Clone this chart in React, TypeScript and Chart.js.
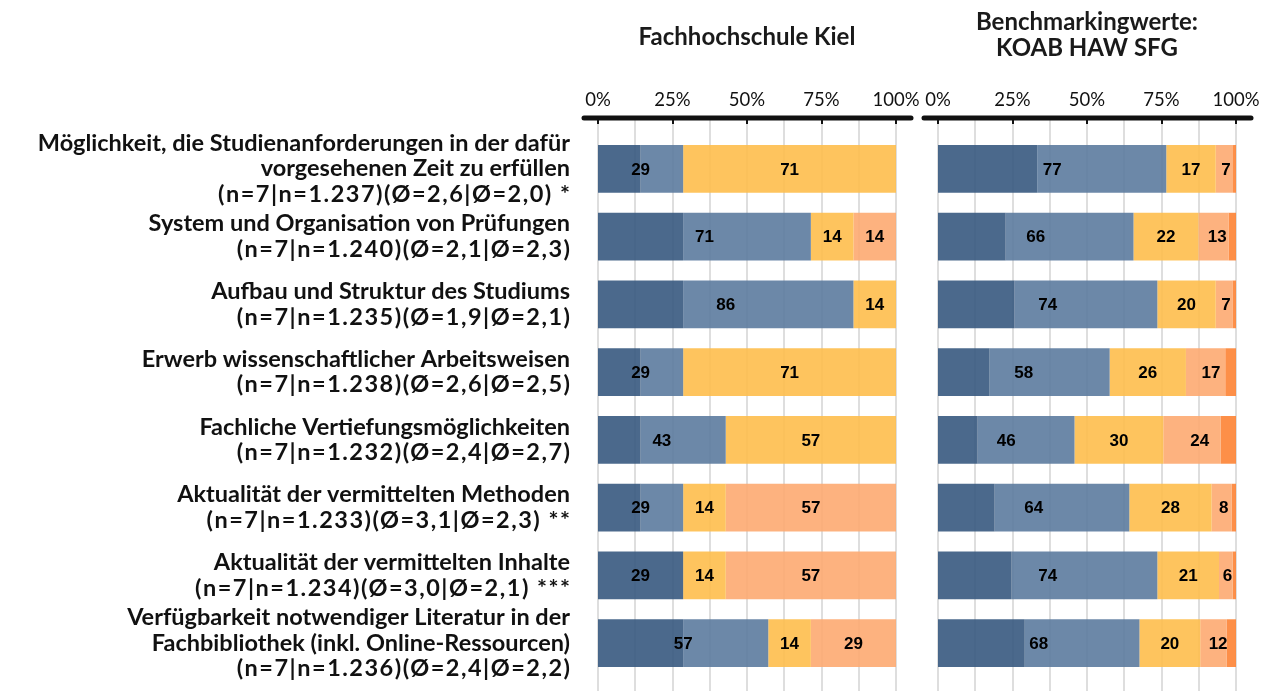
import React, { useEffect, useRef } from "react";
import { Chart, registerables } from "chart.js";
Chart.register(...registerables);

const categories: string[][] = [
  ["Möglichkeit, die Studienanforderungen in der dafür", "vorgesehenen Zeit zu erfüllen", "(n=7|n=1.237)(Ø=2,6|Ø=2,0) *"],
  ["System und Organisation von Prüfungen", "(n=7|n=1.240)(Ø=2,1|Ø=2,3)"],
  ["Aufbau und Struktur des Studiums", "(n=7|n=1.235)(Ø=1,9|Ø=2,1)"],
  ["Erwerb wissenschaftlicher Arbeitsweisen", "(n=7|n=1.238)(Ø=2,6|Ø=2,5)"],
  ["Fachliche Vertiefungsmöglichkeiten", "(n=7|n=1.232)(Ø=2,4|Ø=2,7)"],
  ["Aktualität der vermittelten Methoden", "(n=7|n=1.233)(Ø=3,1|Ø=2,3) **"],
  ["Aktualität der vermittelten Inhalte", "(n=7|n=1.234)(Ø=3,0|Ø=2,1) ***"],
  ["Verfügbarkeit notwendiger Literatur in der", "Fachbibliothek (inkl. Online-Ressourcen)", "(n=7|n=1.236)(Ø=2,4|Ø=2,2)"],
];

// Fachhochschule Kiel (percent)
const kielSehrGut = [14.29, 28.57, 28.57, 14.29, 14.29, 14.29, 28.57, 28.57];
const kielGut = [14.29, 42.86, 57.14, 14.29, 28.57, 14.29, 0, 28.57];
const kielMittel = [71.43, 14.29, 14.29, 71.43, 57.14, 14.29, 14.29, 14.29];
const kielSchlecht = [0, 14.29, 0, 0, 0, 57.14, 57.14, 28.57];
const kielSehrSchlecht = [0, 0, 0, 0, 0, 0, 0, 0];

// Benchmarkingwerte KOAB HAW SFG (percent)
const koabSehrGut = [33.3, 22.7, 25.7, 17.3, 13.3, 19.0, 24.7, 29.1];
const koabGut = [43.3, 42.9, 47.9, 40.3, 32.5, 45.2, 48.9, 38.5];
const koabMittel = [16.6, 21.8, 19.6, 25.6, 29.8, 27.6, 20.7, 20.4];
const koabSchlecht = [5.8, 10.1, 5.6, 13.2, 19.3, 6.8, 4.6, 8.9];
const koabSehrSchlecht = [1.0, 2.5, 1.2, 3.6, 5.1, 1.4, 1.1, 3.1];

const xTicks = [0, 25, 50, 75, 100];
const gridValues = [0, 12.5, 25, 37.5, 50, 62.5, 75, 87.5, 100];
const labelGroups = [[0, 1], [2], [3, 4]];

const colors = [
  "rgba(55, 89, 127, 0.9)",
  "rgba(92, 123, 158, 0.9)",
  "rgba(254, 190, 76, 0.9)",
  "rgba(253, 170, 113, 0.9)",
  "rgba(253, 131, 52, 0.9)",
];

const AXIS_Y = 118;
const TICK_Y = 100;
const LABEL_RIGHT = 570;
const LINE_H = 25.5;
const FONT = "Lato, 'Open Sans', sans-serif";

function makeDecor(title: string[], titleYs: number[], withCategories: boolean) {
  return {
    id: "decor",
    beforeDatasetsDraw(chart: any) {
      const ctx = chart.ctx;
      const x = chart.scales.x;
      ctx.save();
      ctx.strokeStyle = "#dedede";
      ctx.lineWidth = 2;
      for (const v of gridValues) {
        const px = Math.round(x.getPixelForValue(v));
        ctx.beginPath();
        ctx.moveTo(px, AXIS_Y);
        ctx.lineTo(px, chart.height);
        ctx.stroke();
      }
      ctx.restore();
    },
    afterDatasetsDraw(chart: any) {
      const ctx = chart.ctx;
      const x = chart.scales.x;
      const y = chart.scales.y;
      const ds = chart.data.datasets;
      const labels = chart.data.labels as string[][];
      ctx.save();
      // value labels
      ctx.font = "bold 17px 'Liberation Sans', Arial, sans-serif";
      ctx.fillStyle = "#000";
      ctx.textAlign = "center";
      ctx.textBaseline = "middle";
      const n = labels.length;
      for (let i = 0; i < n; i++) {
        const py = y.getPixelForValue(i);
        let cum = 0;
        for (const g of labelGroups) {
          const val = g.reduce((s: number, k: number) => s + (ds[k].data[i] as number), 0);
          if (val >= 3) {
            const cx = x.getPixelForValue(cum + val / 2);
            ctx.fillText(String(Math.round(val)), cx, py + 1);
          }
          cum += val;
        }
      }
      // category labels
      if (withCategories) {
        ctx.textAlign = "right";
        ctx.fillStyle = "#111";
        ctx.font = `bold 23.5px ${FONT}`;
        for (let i = 0; i < n; i++) {
          const lines = labels[i];
          const py = y.getPixelForValue(i);
          const start = py - ((lines.length - 1) * LINE_H) / 2;
          lines.forEach((line, k) => {
            (ctx as any).letterSpacing = line.startsWith("(n=") ? "1.5px" : "0px";
            const extra = line.startsWith("(n=") ? 1.5 : 0;
            ctx.fillText(line, LABEL_RIGHT + extra, start + k * LINE_H);
          });
        }
        (ctx as any).letterSpacing = "0px";
      }
      // axis line
      const x0 = x.getPixelForValue(0);
      const x1 = x.getPixelForValue(100);
      ctx.textAlign = "center";
      ctx.strokeStyle = "#111";
      ctx.lineCap = "round";
      ctx.lineWidth = 5;
      ctx.beginPath();
      ctx.moveTo(x0 - 14, AXIS_Y);
      ctx.lineTo(x1 + 15, AXIS_Y);
      ctx.stroke();
      ctx.lineCap = "butt";
      ctx.lineWidth = 2;
      for (const t of xTicks) {
        const px = Math.round(x.getPixelForValue(t));
        ctx.beginPath();
        ctx.moveTo(px, AXIS_Y);
        ctx.lineTo(px, AXIS_Y + 6);
        ctx.stroke();
      }
      // tick labels
      ctx.font = `18.5px ${FONT}`;
      ctx.fillStyle = "#111";
      for (const t of xTicks) {
        ctx.fillText(t + "%", x.getPixelForValue(t), TICK_Y);
      }
      // title
      ctx.font = `bold 24px ${FONT}`;
      ctx.fillStyle = "#1a1a1a";
      const cx = (x0 + x1) / 2;
      title.forEach((line, k) => ctx.fillText(line, cx, titleYs[k]));
      ctx.restore();
    },
  };
}

function buildDatasets(series: number[][]) {
  return series.map((data, k) => ({
    label: String(k),
    data,
    backgroundColor: colors[k],
    borderWidth: 0,
    barPercentage: 0.704,
    categoryPercentage: 1,
  }));
}

export default function App() {
  const leftRef = useRef<HTMLCanvasElement>(null);
  const rightRef = useRef<HTMLCanvasElement>(null);

  useEffect(() => {
    const common = {
      animation: false as const,
      responsive: false,
      indexAxis: "y" as const,
      plugins: { legend: { display: false }, tooltip: { enabled: false } },
    };
    const left = new Chart(leftRef.current!, {
      type: "bar",
      data: {
        labels: categories,
        datasets: buildDatasets([kielSehrGut, kielGut, kielMittel, kielSchlecht, kielSehrSchlecht]),
      },
      options: {
        ...common,
        layout: { padding: { top: 135, bottom: 14, right: 24, left: 598 } },
        scales: {
          x: { display: false, stacked: true, min: 0, max: 100 },
          y: { display: false, stacked: true },
        },
      },
      plugins: [makeDecor(["Fachhochschule Kiel"], [37], true)],
    } as any);
    const right = new Chart(rightRef.current!, {
      type: "bar",
      data: {
        labels: categories,
        datasets: buildDatasets([koabSehrGut, koabGut, koabMittel, koabSchlecht, koabSehrSchlecht]),
      },
      options: {
        ...common,
        layout: { padding: { top: 135, bottom: 14, right: 43, left: 18 } },
        scales: {
          x: { display: false, stacked: true, min: 0, max: 100 },
          y: { display: false, stacked: true },
        },
      },
      plugins: [makeDecor(["Benchmarkingwerte:", "KOAB HAW SFG"], [22, 48], false)],
    } as any);
    return () => {
      left.destroy();
      right.destroy();
    };
  }, []);

  return (
    <div style={{ position: "absolute", left: 0, top: 0, width: 1279, height: 691, background: "#fff" }}>
      <canvas ref={leftRef} width={920} height={691} style={{ position: "absolute", left: 0, top: 0, width: 920, height: 691 }} />
      <canvas ref={rightRef} width={359} height={691} style={{ position: "absolute", left: 920, top: 0, width: 359, height: 691 }} />
    </div>
  );
}
